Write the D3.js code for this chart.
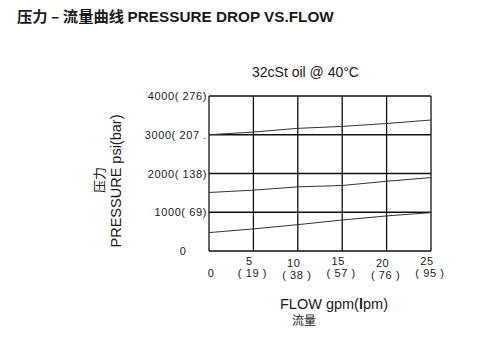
<!DOCTYPE html>
<html><head><meta charset="utf-8">
<script src="https://cdn.jsdelivr.net/npm/d3@7"></script>
<style>
html,body{margin:0;padding:0;background:#fff;}
svg{display:block;font-family:"Liberation Sans",Arial,sans-serif;}
</style></head>
<body>
<svg id="c" width="485" height="340"></svg>
<script>
const flowGpm = [0, 5, 10, 15, 20, 25];
const flowLpmLabels = ["", "( 19 )", "( 38 )", "( 57 )", "( 76 )", "( 95 )"];
const pressureTicks = [0, 1000, 2000, 3000, 4000];
const pressureLabels = ["0", "1000( 69)", "2000( 138)", "3000( 207 .", "4000( 276)"];
const curveHigh = [3000, 3070, 3165, 3215, 3290, 3380];
const curveMid  = [1510, 1570, 1655, 1690, 1800, 1895];
const curveLow  = [475, 570, 680, 800, 905, 990];

const svg = d3.select("#c");
const x = d3.scaleLinear().domain([0, 25]).range([209, 431]);
const y = d3.scaleLinear().domain([0, 4000]).range([251, 96]);

// Title
const t = svg.append("text").attr("x", 17).attr("y", 22)
  .attr("font-size", 15.3).attr("font-weight", "bold").attr("fill", "#1a1a1a");
t.append("tspan").attr("font-family", "'Noto Sans CJK SC'").text("压力 – 流量曲线 ");
t.append("tspan").text("PRESSURE DROP VS.FLOW");

svg.append("text").attr("x", 252).attr("y", 77).attr("font-size", 14).attr("fill", "#1a1a1a")
  .text("32cSt oil @ 40°C");

// Grid
const g = svg.append("g").attr("stroke", "#111").attr("stroke-width", 1.3).attr("fill", "none");
g.selectAll("line.h").data(pressureTicks).join("line")
  .attr("x1", x(0)).attr("x2", x(25)).attr("y1", d => y(d)).attr("y2", d => y(d));
g.selectAll("line.v").data(flowGpm).join("line")
  .attr("y1", y(0)).attr("y2", y(4000)).attr("x1", d => x(d)).attr("x2", d => x(d));

// Curves
const line = d3.line().x((d, i) => x(flowGpm[i])).y(d => y(d));
[curveHigh, curveMid, curveLow].forEach(c => {
  svg.append("path").attr("d", line(c)).attr("fill", "none")
    .attr("stroke", "#333").attr("stroke-width", 1);
});

// Y tick labels
svg.selectAll("text.yt").data(pressureTicks).join("text")
  .attr("x", (d, i) => i === 0 ? 183 : 207)
  .attr("y", d => y(d) + 4)
  .attr("text-anchor", (d, i) => i === 0 ? "middle" : "end")
  .attr("font-size", 11).attr("letter-spacing", 0.6).attr("fill", "#1a1a1a")
  .text((d, i) => pressureLabels[i]);

// X tick labels
svg.selectAll("text.xg").data(flowGpm).join("text")
  .attr("x", (d, i) => i === 0 ? x(d) + 2 : x(d) - 4)
  .attr("y", (d, i) => i === 0 ? 277 : (i % 2 === 1 ? 264.5 : 267))
  .attr("text-anchor", "middle").attr("font-size", 11).attr("letter-spacing", 0.6).attr("fill", "#1a1a1a")
  .text(d => d);
svg.selectAll("text.xl").data(flowGpm).join("text")
  .attr("x", d => x(d) - 1)
  .attr("y", (d, i) => i % 2 === 1 ? 276.5 : 279)
  .attr("text-anchor", "middle").attr("font-size", 11).attr("letter-spacing", 0.6).attr("fill", "#1a1a1a")
  .text((d, i) => flowLpmLabels[i]);

// Axis titles
const xt = svg.append("text").attr("x", 280).attr("y", 309).attr("font-size", 14.5).attr("fill", "#1a1a1a");
xt.append("tspan").text("FLOW gpm(");
xt.append("tspan").attr("font-weight", "bold").text("l");
xt.append("tspan").text("pm)");
svg.append("text").attr("x", 304).attr("y", 325).attr("text-anchor", "middle")
  .attr("font-size", 12).attr("font-family", "'Noto Sans CJK SC'").attr("fill", "#1a1a1a").text("流量");

svg.append("text").attr("transform", "translate(121,181) rotate(-90)")
  .attr("text-anchor", "middle").attr("font-size", 14.5).attr("fill", "#1a1a1a")
  .text("PRESSURE psi(bar)");
svg.append("text").attr("transform", "translate(104,180) rotate(-90)")
  .attr("text-anchor", "middle").attr("font-size", 13).attr("font-family", "'Noto Sans CJK SC'").attr("fill", "#1a1a1a")
  .text("压力");
</script>
</body></html>
